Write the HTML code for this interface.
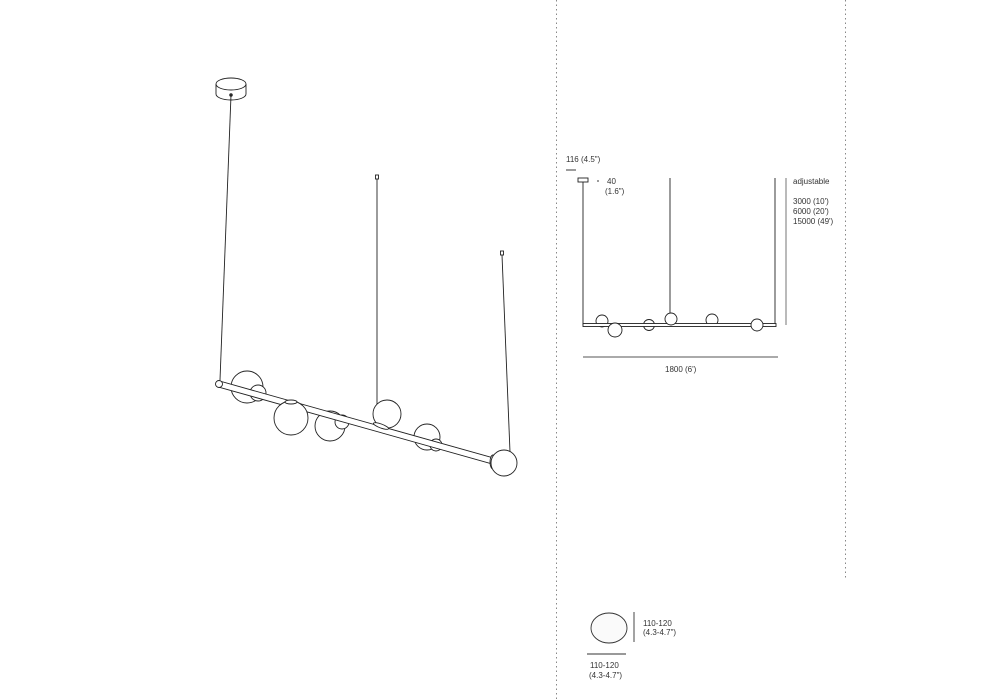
<!DOCTYPE html>
<html><head><meta charset="utf-8"><style>
html,body{margin:0;padding:0;background:#fff;}
svg{display:block;}
text{font-family:"Liberation Sans",sans-serif;font-size:8px;fill:#333;}
</style></head><body>
<svg width="1000" height="700" viewBox="0 0 1000 700" xmlns="http://www.w3.org/2000/svg">
<g stroke="#888" stroke-width="1" stroke-dasharray="1.5,3" fill="none">
<line x1="556.5" y1="0" x2="556.5" y2="700"/>
<line x1="845.5" y1="0" x2="845.5" y2="578"/>
</g>
<g stroke="#222" stroke-width="0.9" fill="#fff">
<path d="M216,84 v10 a15,6 0 0 0 30,0 v-10"/>
<ellipse cx="231" cy="84" rx="15" ry="6"/>
<circle cx="231" cy="95" r="1.3" fill="#333"/>
<line x1="231" y1="95" x2="220" y2="380"/>
<line x1="377" y1="178" x2="377" y2="405"/>
<rect x="375.5" y="175" width="3" height="4"/>
<line x1="502" y1="255" x2="510" y2="452"/>
<rect x="500.5" y="251" width="3" height="4"/>
<circle cx="247" cy="387" r="16"/>
<circle cx="258" cy="393" r="8"/>
<circle cx="330" cy="426" r="15"/>
<circle cx="342" cy="422" r="7"/>
<circle cx="427" cy="437" r="13"/>
<circle cx="436" cy="445" r="6"/>
<path d="M219.5,381 L497,459 L496,465 L218.5,387 Z"/>
<ellipse cx="219" cy="384" rx="3.5" ry="3.5"/>
<circle cx="291" cy="418" r="17"/>
<ellipse cx="291" cy="402" rx="6" ry="2"/>
<circle cx="387" cy="414" r="14"/>
<ellipse cx="381" cy="426" rx="8" ry="2" transform="rotate(20 381 426)"/>
<ellipse cx="493" cy="462" rx="3" ry="7"/>
<circle cx="504" cy="463" r="13"/>
</g>
<g stroke="#222" stroke-width="0.9" fill="#fff">
<line x1="566" y1="170" x2="576" y2="170"/>
<rect x="578" y="178" width="10" height="4"/>
<line x1="598" y1="180" x2="598" y2="182"/>
<line x1="583" y1="182" x2="583" y2="325"/>
<line x1="670" y1="178" x2="670" y2="315"/>
<line x1="775" y1="178" x2="775" y2="325"/>
<line x1="786" y1="178" x2="786" y2="325" stroke="#666"/>
<circle cx="602" cy="321" r="6"/>
<circle cx="649" cy="325" r="5.5"/>
<circle cx="712" cy="320" r="6"/>
<rect x="583" y="323.5" width="193" height="3"/>
<circle cx="615" cy="330" r="7"/>
<circle cx="671" cy="319" r="6"/>
<circle cx="757" cy="325" r="6"/>
<line x1="583" y1="357" x2="778" y2="357" stroke="#555"/>
</g>
<text x="566" y="162">116 (4.5")</text>
<text x="607" y="184">40</text>
<text x="605" y="194">(1.6")</text>
<text x="793" y="184">adjustable</text>
<text x="793" y="204">3000 (10')</text>
<text x="793" y="214">6000 (20')</text>
<text x="793" y="224">15000 (49')</text>
<text x="665" y="372">1800 (6')</text>
<ellipse cx="609" cy="628" rx="18" ry="15" fill="#fafafa" stroke="#333" stroke-width="0.9"/>
<line x1="634" y1="612" x2="634" y2="642" stroke="#333" stroke-width="0.9"/>
<line x1="587" y1="654" x2="626" y2="654" stroke="#333" stroke-width="0.9"/>
<text x="643" y="626">110-120</text>
<text x="643" y="635">(4.3-4.7")</text>
<text x="590" y="668">110-120</text>
<text x="589" y="678">(4.3-4.7")</text>
</svg>
</body></html>
